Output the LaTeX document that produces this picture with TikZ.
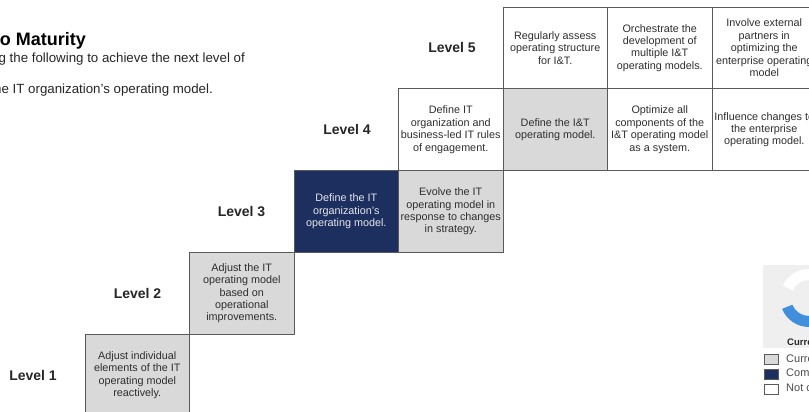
\documentclass[tikz,border=0pt]{standalone}
\usepackage{fontspec}
\setmainfont{Liberation Sans}
\definecolor{cellgray}{HTML}{D9D9D9}
\definecolor{navy}{HTML}{1C2F5E}
\definecolor{gridline}{HTML}{5A5A5A}
\definecolor{celltext}{HTML}{2E2E2E}
\definecolor{panelgray}{HTML}{EFEFEF}
\definecolor{donutblue}{HTML}{3F8FDC}
\begin{document}
\begin{tikzpicture}[x=1pt,y=-1pt,
  cellbox/.style={draw=gridline, line width=0.8pt, minimum width=104.5pt,
    minimum height=81.8pt, inner sep=0pt, align=center, text=celltext,
    font=\fontsize{10.8}{12.4}\selectfont},
  graycell/.style={cellbox, fill=cellgray},
  navycell/.style={cellbox, fill=navy, text=white!88!navy},
  whitecell/.style={cellbox, fill=white},
  levellabel/.style={font=\bfseries\fontsize{14}{16}\selectfont, text=black!85},
  legendbox/.style={draw=gridline, line width=0.7pt, minimum width=14pt,
    minimum height=10pt, inner sep=0pt},
  legendtext/.style={anchor=west, inner sep=0pt, text=black!70,
    font=\fontsize{11}{13}\selectfont}]
\useasboundingbox (0,0) rectangle (809,412);
\clip (0,0) rectangle (809,412);

% heading
\node[anchor=base east, inner sep=0pt, font=\bfseries\fontsize{18}{20}\selectfont]
  (title) at (86,46) {o Maturity};
\node[anchor=base east, inner sep=0pt, font=\fontsize{13.3}{15}\selectfont, text=black!85]
  (sub1) at (245,63) {g the following to achieve the next level of};
\node[anchor=base east, inner sep=0pt, font=\fontsize{13.3}{15}\selectfont, text=black!85]
  (sub2) at (213,94) {he IT organization’s operating model.};

% staircase of practices (column centres 137.25 + 104.5 k, row centres 375.1 - 81.8 k)
\node[graycell] (l1a) at (137.25,375.1) {Adjust individual\\elements of the IT\\operating model\\reactively.};
\node[graycell] (l2a) at (241.75,293.3) {Adjust the IT\\operating model\\based on\\operational\\improvements.};
\node[navycell] (l3a) at (346.25,211.5) {Define the IT\\organization’s\\operating model.};
\node[graycell] (l3b) at (450.75,211.5) {Evolve the IT\\operating model in\\response to changes\\in strategy.};
\node[whitecell] (l4a) at (450.75,129.7) {Define IT\\organization and\\business-led IT rules\\of engagement.};
\node[graycell] (l4b) at (555.25,129.7) {Define the I\&T\\operating model.};
\node[whitecell] (l4c) at (659.75,129.7) {Optimize all\\components of the\\I\&T operating model\\as a system.};
\node[whitecell] (l4d) at (764.25,129.7) {Influence changes to\\the enterprise\\operating model.};
\node[whitecell] (l5a) at (555.25,47.9) {Regularly assess\\operating structure\\for I\&T.};
\node[whitecell] (l5b) at (659.75,47.9) {Orchestrate the\\development of\\multiple I\&T\\operating models.};
\node[whitecell] (l5c) at (764.25,47.9) {Involve external\\partners in\\optimizing the\\enterprise operating\\model};

% level labels
\node[levellabel] (lev1) at (33,375.1) {Level 1};
\node[levellabel] (lev2) at (137.5,293.3) {Level 2};
\node[levellabel] (lev3) at (241.5,211.5) {Level 3};
\node[levellabel] (lev4) at (347,129.7) {Level 4};
\node[levellabel] (lev5) at (452,47.9) {Level 5};

% status panel with donut
\fill[panelgray] (763,265) rectangle (812,348);
\fill[donutblue] (809,298) ++(90:29) arc[start angle=90, end angle=158, radius=29]
  -- ++(158:-11) arc[start angle=158, end angle=90, radius=18] -- cycle;
\fill[white] (809,298) ++(205:29) arc[start angle=205, end angle=270, radius=29]
  -- ++(270:-11) arc[start angle=270, end angle=205, radius=18] -- cycle;
\node[anchor=base west, inner sep=0pt, font=\bfseries\fontsize{9.5}{11}\selectfont, text=black!85]
  (cur) at (787,345) {Current};

% legend
\node[legendbox, fill=cellgray] (kg) at (771,359) {};
\node[legendtext] (kgt) at (786,359) {Current};
\node[legendbox, fill=navy] (kn) at (771,374) {};
\node[legendtext] (knt) at (786,374) {Completed};
\node[legendbox, fill=white] (kw) at (771,389) {};
\node[legendtext] (kwt) at (786,389) {Not completed};
\end{tikzpicture}
\end{document}
